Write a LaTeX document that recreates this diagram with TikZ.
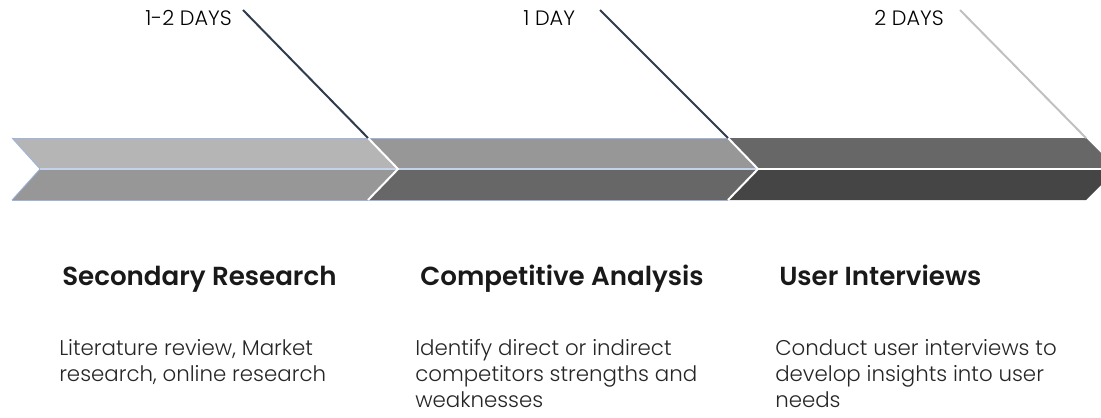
\documentclass[tikz,border=0pt]{standalone}
\usepackage{fontspec}
\setmainfont{Poppins}[BoldFont={Poppins SemiBold}]
\newfontfamily\lightfont{Poppins Light}
\newcommand{\lines}[1]{\begin{tabular}[t]{@{}l@{}}#1\end{tabular}}
\begin{document}
\begin{tikzpicture}[x=0.75pt,y=-0.75pt,
  daylabel/.style={font=\lightfont\fontsize{15.6}{18}\selectfont, text=black, inner sep=0pt},
  heading/.style={font=\fontsize{19.6}{23}\selectfont\bfseries, text=black!90, inner sep=0pt, anchor=base west},
  desc/.style={font=\lightfont\fontsize{16}{19.5}\selectfont, text=black!85, inner sep=0pt, anchor=base west},
  leader/.style={line width=1.5pt, color=leaderdark},
  sep/.style={draw=white, line width=1.5pt},
  rim/.style={draw=rimblue, line width=0.6pt}]
\definecolor{leaderdark}{HTML}{2F3B4F}
\definecolor{leaderlight}{HTML}{C0C0C0}
\definecolor{rimblue}{HTML}{9DB4DE}
\definecolor{gA}{HTML}{B5B5B5}
\definecolor{gB}{HTML}{979797}
\definecolor{gC}{HTML}{676767}
\definecolor{gD}{HTML}{454545}
\useasboundingbox (0,0) rectangle (1101,418);
\begin{scope}
\clip (0,0) rectangle (1101,418);
% chevron halves
\fill[gA] (12,138) -- (368,138) -- (398,169) -- (40,169) -- cycle;
\fill[gB] (40,169) -- (398,169) -- (368,200) -- (12,200) -- cycle;
\fill[gB] (368,138) -- (728,138) -- (758,169) -- (398,169) -- cycle;
\fill[gC] (398,169) -- (758,169) -- (728,200) -- (368,200) -- cycle;
\fill[gC] (728,138) -- (1086,138) -- (1117,169) -- (758,169) -- cycle;
\fill[gD] (758,169) -- (1117,169) -- (1086,200) -- (728,200) -- cycle;
% rims of the two lighter chevrons
\draw[rim] (12,138) -- (728,138);
\draw[rim] (12,200) -- (728,200);
\draw[rim] (12,138) -- (40,169) -- (12,200);
% middle line
\draw[draw=rimblue!60!white, line width=1.2pt] (40,169) -- (758,169);
\draw[draw=white, line width=1.2pt] (758,169) -- (1117,169);
% separators between chevrons
\draw[sep] (368,138) -- (398,169) -- (368,200);
\draw[sep] (728,138) -- (758,169) -- (728,200);
\end{scope}
% corners the leader lines run to
\coordinate (c1) at (368,138);
\coordinate (c2) at (728,138);
\coordinate (c3) at (1086,138);
% duration labels
\node[daylabel, anchor=base east] (d1) at (232,25) {1-2 DAYS};
\node[daylabel, anchor=base west] (d2) at (523,25) {1 DAY};
\node[daylabel, anchor=base west] (d3) at (874,25) {2 DAYS};
\coordinate (d1s) at (243,10);
\coordinate (d2s) at (600,10);
\coordinate (d3s) at (960,10);
\draw[leader] (d1s) -- (c1);
\draw[leader] (d2s) -- (c2);
\draw[leader, color=leaderlight] (d3s) -- (c3);
% phase titles
\node[heading] (h1) at (62,285) {Secondary Research};
\node[heading] (h2) at (420,285) {Competitive Analysis};
\node[heading] (h3) at (779,285) {User Interviews};
% descriptions
\node[desc] (t1) at (59,355) {\lines{Literature review, Market\\research, online research}};
\node[desc] (t2) at (415,355) {\lines{Identify direct or indirect\\competitors strengths and\\weaknesses}};
\node[desc] (t3) at (775,355) {\lines{Conduct user interviews to\\develop insights into user\\needs}};
\end{tikzpicture}
\end{document}
